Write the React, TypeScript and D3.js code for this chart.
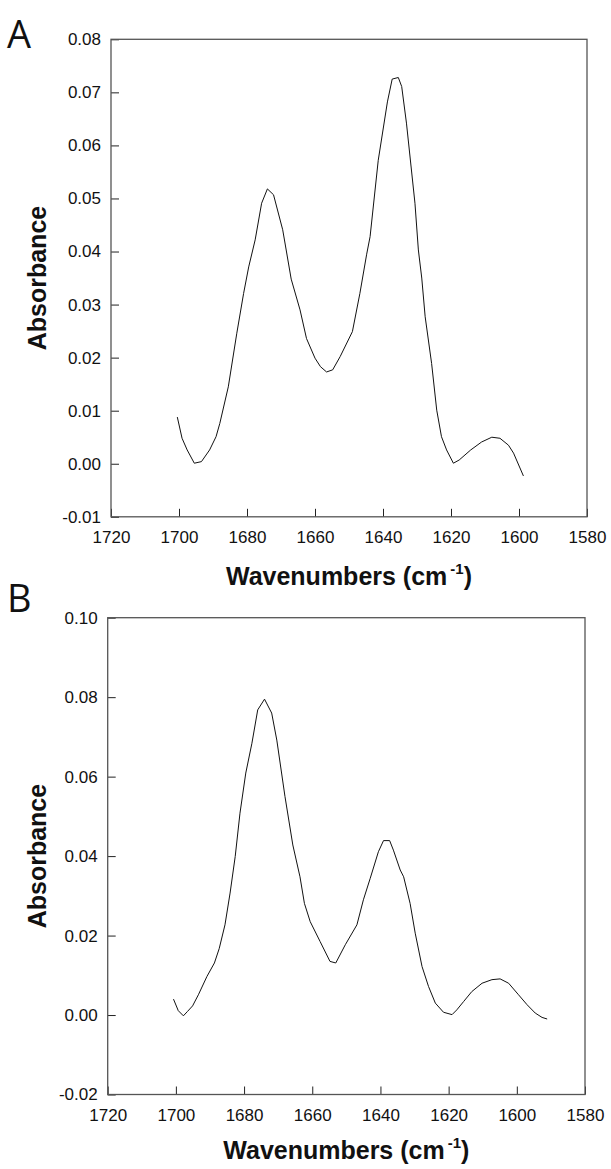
import React, { useEffect, useRef } from 'react';
import * as d3 from 'd3';

// spectrum A (wavenumber in cm-1, absorbance)
const wavenumbersA = [1700.5, 1699.1, 1697.6, 1695.5, 1693.4, 1691.0, 1689.1, 1688.0, 1685.5, 1683.0,
    1681.0, 1679.5, 1677.6, 1675.7, 1674.0, 1672.2, 1669.5, 1667.0, 1664.4, 1662.5,
    1660.0, 1658.4, 1656.6, 1654.8, 1652.6, 1649.0, 1646.8, 1644.8, 1643.8, 1641.4,
    1638.7, 1637.3, 1635.5, 1634.5, 1633.1, 1630.6, 1629.6, 1628.6, 1627.6, 1625.7,
    1624.2, 1622.8, 1621.3, 1619.3, 1617.6, 1614.2, 1611.0, 1608.0, 1605.6, 1603.1,
    1601.6, 1598.7];
const absorbanceA = [0.0088, 0.0048, 0.0026, 0.0001, 0.0004, 0.0026, 0.0051, 0.0076, 0.0145, 0.0246,
    0.0321, 0.0371, 0.0422, 0.0491, 0.0518, 0.0507, 0.0441, 0.0348, 0.0290, 0.0236,
    0.0199, 0.0183, 0.0173, 0.0177, 0.0202, 0.0249, 0.0321, 0.0395, 0.0428, 0.0572,
    0.0682, 0.0725, 0.0728, 0.0711, 0.0642, 0.0491, 0.0403, 0.0350, 0.0277, 0.0189,
    0.0101, 0.0051, 0.0026, 0.0001, 0.0007, 0.0026, 0.0041, 0.0050, 0.0048, 0.0035,
    0.0020, -0.0023];

// spectrum B
const wavenumbersB = [1700.7, 1699.3, 1697.8, 1696.6, 1695.1, 1693.4, 1690.9, 1688.7, 1687.3, 1685.6,
    1684.1, 1682.6, 1681.2, 1679.5, 1677.7, 1676.0, 1674.0, 1671.9, 1670.4, 1668.0,
    1665.7, 1663.6, 1662.3, 1660.6, 1657.7, 1654.8, 1653.1, 1650.3, 1646.9, 1645.0,
    1643.0, 1640.6, 1639.1, 1637.3, 1636.2, 1634.2, 1633.2, 1631.3, 1629.8, 1627.8,
    1625.9, 1623.9, 1621.5, 1619.0, 1617.6, 1615.6, 1613.2, 1610.2, 1607.3, 1604.9,
    1602.4, 1599.5, 1597.0, 1594.6, 1592.6, 1591.1];
const absorbanceB = [0.0040, 0.0011, -0.0002, 0.0009, 0.0023, 0.0051, 0.0097, 0.0131, 0.0167, 0.0227,
    0.0307, 0.0399, 0.0508, 0.0609, 0.0684, 0.0768, 0.0795, 0.0760, 0.0692, 0.0550,
    0.0428, 0.0348, 0.0281, 0.0235, 0.0185, 0.0135, 0.0131, 0.0177, 0.0227, 0.0290,
    0.0344, 0.0411, 0.0439, 0.0439, 0.0415, 0.0365, 0.0348, 0.0281, 0.0206, 0.0122,
    0.0072, 0.0030, 0.0007, 0.0001, 0.0013, 0.0034, 0.0059, 0.0080, 0.0089, 0.0091,
    0.0080, 0.0051, 0.0026, 0.0005, -0.0006, -0.0010];

const xTicks = [1720, 1700, 1680, 1660, 1640, 1620, 1600, 1580];
const yTicksA = [-0.01, 0.00, 0.01, 0.02, 0.03, 0.04, 0.05, 0.06, 0.07, 0.08];
const yTicksB = [-0.02, 0.00, 0.02, 0.04, 0.06, 0.08, 0.10];

const FONT = '"Liberation Sans", Arial, sans-serif';

function drawPanel(svg, opts) {
    const {left, right, top, bottom, xs, ys, yTicks, letter, letterY, titleGap} = opts;

    const x = d3.scaleLinear()
        .domain([1720, 1580])
        .range([left, right]);
    const y = d3.scaleLinear()
        .domain([yTicks[0], yTicks[yTicks.length - 1]])
        .range([bottom, top]);

    const g = svg.append('g');

    // ticks point into the plot
    const yAxis = d3.axisLeft(y)
        .tickValues(yTicks)
        .tickSizeInner(-8)
        .tickSizeOuter(0)
        .tickPadding(10)
        .tickFormat((d) => d.toFixed(2));

    g.append('g')
        .attr('transform', `translate(${left},0)`)
        .call(yAxis)
        .call((s) => s.select('.domain').remove())
        .call((s) => s.selectAll('line').attr('stroke', '#222'))
        .selectAll('text')
        .attr('fill', '#111')
        .style('font-family', FONT)
        .style('font-size', '17px');

    const xAxis = d3.axisBottom(x)
        .tickValues(xTicks)
        .tickSizeInner(-8)
        .tickSizeOuter(0)
        .tickPadding(14)
        .tickFormat((d) => String(d));

    g.append('g')
        .attr('transform', `translate(0,${bottom})`)
        .call(xAxis)
        .call((s) => s.select('.domain').remove())
        .call((s) => s.selectAll('line').attr('stroke', '#222'))
        .selectAll('text')
        .attr('fill', '#111')
        .style('font-family', FONT)
        .style('font-size', '17px');

    // frame
    g.append('rect')
        .attr('x', left)
        .attr('y', top)
        .attr('width', right - left)
        .attr('height', bottom - top)
        .attr('fill', 'none')
        .attr('stroke', '#555')
        .attr('stroke-width', 1.3);

    // spectrum line
    const line = d3.line()
        .x((d) => x(d[0]))
        .y((d) => y(d[1]));

    g.append('path')
        .datum(xs.map((w, i) => [w, ys[i]]))
        .attr('d', line)
        .attr('fill', 'none')
        .attr('stroke', '#111')
        .attr('stroke-width', 1);

    // y title
    g.append('text')
        .attr('transform', `translate(46,${(top + bottom) / 2}) rotate(-90)`)
        .attr('text-anchor', 'middle')
        .style('font-family', FONT)
        .style('font-weight', 'bold')
        .style('font-size', '25px')
        .attr('fill', '#111')
        .text('Absorbance');

    // x title with superscript
    const xt = g.append('text')
        .attr('x', (left + right) / 2)
        .attr('y', bottom + titleGap)
        .attr('text-anchor', 'middle')
        .style('font-family', FONT)
        .style('font-weight', 'bold')
        .style('font-size', '25px')
        .attr('fill', '#111');
    xt.append('tspan').text('Wavenumbers (cm');
    xt.append('tspan').attr('dx', 3).attr('dy', -11).style('font-size', '15px').text('-1');
    xt.append('tspan').attr('dy', 11).text(')');

    // panel letter
    g.append('text')
        .attr('x', 7)
        .attr('y', letterY)
        .style('font-family', '"Open Sans", sans-serif')
        .style('font-size', '38px')
        .attr('fill', '#111')
        .text(letter);
}

export default function App() {
    const ref = useRef(null);

    useEffect(() => {
        const svg = d3.select(ref.current);
        svg.selectAll('*').remove();

        drawPanel(svg, {
            left: 111, right: 587, top: 39.3, bottom: 516.8,
            xs: wavenumbersA, ys: absorbanceA, yTicks: yTicksA,
            letter: 'A', letterY: 48, titleGap: 68,
        });
        drawPanel(svg, {
            left: 107.7, right: 585, top: 617.7, bottom: 1094.5,
            xs: wavenumbersB, ys: absorbanceB, yTicks: yTicksB,
            letter: 'B', letterY: 612, titleGap: 64,
        });
    }, []);

    return (
        <div style={{position: 'absolute', left: 0, top: 0}}>
            <svg ref={ref} width={611} height={1169} style={{display: 'block', background: '#fff'}} />
        </div>
    );
}
